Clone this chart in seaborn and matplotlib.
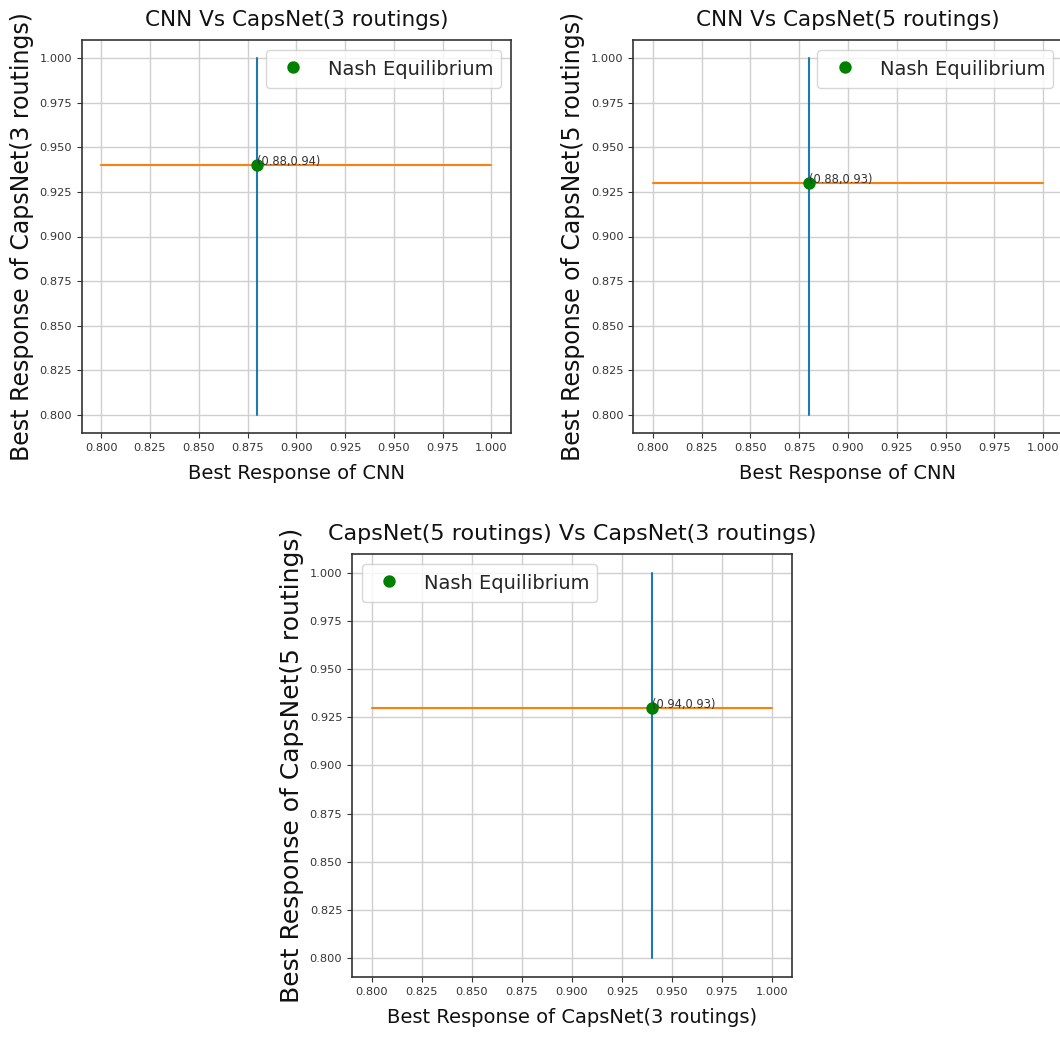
import matplotlib
matplotlib.use("Agg")
import matplotlib.pyplot as plt
import seaborn as sns

# ---- data ----
titles = ["CNN Vs CapsNet(3 routings)",
          "CNN Vs CapsNet(5 routings)",
          "CapsNet(5 routings) Vs CapsNet(3 routings)"]
x_labels = ["Best Response of CNN",
            "Best Response of CNN",
            "Best Response of CapsNet(3 routings)"]
y_labels = ["Best Response of CapsNet(3 routings)",
            "Best Response of CapsNet(5 routings)",
            "Best Response of CapsNet(5 routings)"]
ne_x = [0.88, 0.88, 0.94]
ne_y = [0.94, 0.93, 0.93]
span = [0.8, 1.0]
legend_label = "Nash Equilibrium"
legend_locs = ["upper right", "upper right", "upper left"]

sns.set_style("ticks", {"axes.grid": True, "grid.color": "#cfcfcf"})
plt.rcParams["font.family"] = ["DejaVu Sans"]
plt.rcParams["xtick.direction"] = "out"
plt.rcParams["ytick.direction"] = "out"

fig = plt.figure(figsize=(10.60, 10.37), dpi=100)
rects = [
    [81.7 / 1060, (1037 - 433) / 1037, 429.3 / 1060, 393 / 1037],
    [633.3 / 1060, (1037 - 433) / 1037, 429.3 / 1060, 393 / 1037],
    [352 / 1060, (1037 - 977) / 1037, 440 / 1060, 423 / 1037],
]
title_sizes = [15.5, 15.5, 16]
ylabel_sizes = [17, 17, 18]

for i in range(3):
    ax = fig.add_axes(rects[i])
    sns.lineplot(x=[ne_x[i], ne_x[i]], y=span, ax=ax, color="#1f77b4",
                 sort=False, estimator=None, linewidth=1.5)
    sns.lineplot(x=span, y=[ne_y[i], ne_y[i]], ax=ax, color="#ff7f0e",
                 sort=False, estimator=None, linewidth=1.5)
    sns.scatterplot(x=[ne_x[i]], y=[ne_y[i]], ax=ax, color="green", s=80,
                    linewidth=0, label=legend_label, zorder=3)
    ax.annotate(f"({ne_x[i]:.2f},{ne_y[i]:.2f})", (ne_x[i], ne_y[i]),
                fontsize=8.3, color="#333333")
    ax.set_xlim(0.79, 1.01)
    ax.set_ylim(0.79, 1.01)
    ax.set_xticks([0.8, 0.825, 0.85, 0.875, 0.9, 0.925, 0.95, 0.975, 1.0])
    ax.set_yticks([0.8, 0.825, 0.85, 0.875, 0.9, 0.925, 0.95, 0.975, 1.0])
    ax.set_xticklabels([f"{v:.3f}" for v in ax.get_xticks()])
    ax.set_yticklabels([f"{v:.3f}" for v in ax.get_yticks()])
    ax.tick_params(labelsize=8.2, colors="#333333", length=3.5)
    ax.set_title(titles[i], fontsize=title_sizes[i], color="#111111", pad=10)
    ax.set_xlabel(x_labels[i], fontsize=14, color="#111111", labelpad=8)
    ax.set_ylabel(y_labels[i], fontsize=ylabel_sizes[i], color="#111111")
    ax.grid(True, color="#cfcfcf", linewidth=1)
    for s in ax.spines.values():
        s.set_color("#333333")
        s.set_linewidth(1.2)
    ax.legend(loc=legend_locs[i], fontsize=14, frameon=True,
              borderpad=0.4, handleheight=1.45)

fig.savefig("out.png", dpi=100, facecolor="white")
